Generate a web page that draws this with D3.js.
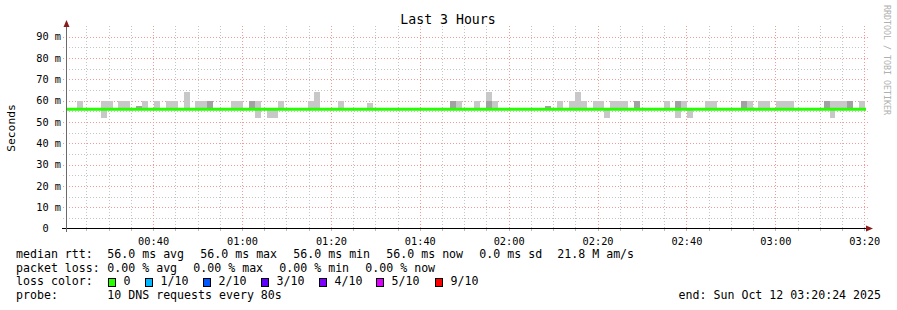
<!DOCTYPE html>
<html>
<head>
<meta charset="utf-8">
<script src="https://cdn.jsdelivr.net/npm/d3@7"></script>
<style>
  body { margin: 0; background: #fff; }
  text { font-family: "DejaVu Sans Mono", monospace; fill: #000; }
</style>
</head>
<body>
<script>
const w = 897;
const h = 310;

// time window (UTC) and the 80 s SmokePing steps
const windowStart = "2025-10-12T00:20:24Z";
const windowEnd = "2025-10-12T03:20:24Z";
const firstStep = "2025-10-12T00:22:52Z";
const stepSeconds = 80;

// median rtt in ms
const medianTimes = [windowStart, windowEnd];
const medianValues = [56.0, 56.0];

// smoke: [step index, low ms, high ms]
const smokeLight = [
  [0, 56, 60], [4, 52, 60], [5, 56, 60], [7, 56, 60], [8, 56, 60],
  [11, 56, 60], [13, 56, 60], [15, 56, 60], [16, 56, 60], [18, 56, 64],
  [20, 56, 60], [21, 56, 60], [26, 56, 60], [27, 56, 60], [30, 52, 60],
  [32, 52, 56], [33, 52, 56], [34, 56, 60], [39, 56, 60], [40, 56, 64],
  [44, 56, 60], [49, 56, 59], [64, 56, 60], [67, 56, 60], [69, 56, 64],
  [70, 56, 60], [81, 56, 60], [83, 56, 60], [84, 56, 64], [85, 56, 60],
  [87, 56, 60], [88, 56, 60], [89, 52, 56], [90, 56, 60], [91, 56, 60],
  [92, 56, 60], [99, 56, 60], [101, 52, 60], [102, 56, 60], [103, 52, 56],
  [106, 56, 60], [107, 56, 60], [113, 56, 60], [115, 56, 60], [116, 56, 60],
  [118, 56, 60], [119, 56, 60], [120, 56, 60], [127, 52, 60], [128, 56, 60],
  [129, 56, 60], [132, 56, 60]
];
const smokeDark = [
  [10, 56, 57.5], [22, 56, 60], [29, 56, 60], [63, 56, 60], [69, 56, 60],
  [79, 56, 57.5], [94, 56, 60], [101, 56, 60], [112, 56, 60], [126, 56, 60],
  [130, 56, 60]
];

const yTicks = [0, 10, 20, 30, 40, 50, 60, 70, 80, 90];

// legend
const lossLabels = ["0", "1/10", "2/10", "3/10", "4/10", "5/10", "9/10"];
const lossColors = ["#26ff00", "#00b8ff", "#0059ff", "#5e00ff", "#7e00ff", "#dd00ff", "#ff0000"];
const rttStats = ["56.0 ms avg", "56.0 ms max", "56.0 ms min", "56.0 ms now", "0.0 ms sd", "21.8 M am/s"];
const lossStats = ["0.00 % avg", "0.00 % max", "0.00 % min", "0.00 % now"];
const probeText = "10 DNS requests every 80s";
const endText = "end: Sun Oct 12 03:20:24 2025";
const title = "Last 3 Hours";

const svg = d3.select('body').append('svg').attr('width', w).attr('height', h);
svg.append('rect').attr('width', w).attr('height', h).attr('fill', '#fff');

const xScale = d3.scaleUtc()
  .domain([new Date(windowStart), new Date(windowEnd)]).range([66, 866]);
const yScale = d3.scaleLinear()
  .domain([0, 90]).range([228.5, 36.7]);

const stepTime = (k) => new Date(+new Date(firstStep) + k * stepSeconds * 1000);

// grid
const t0 = new Date(windowStart), t1 = new Date(windowEnd);
const minorX = d3.utcMinute.every(5).range(t0, new Date(+t1 + 1));
const majorX = d3.utcMinute.every(20).range(t0, new Date(+t1 + 1));
const grid = svg.append('g').attr('shape-rendering', 'crispEdges');

grid.selectAll('.hmin').data(d3.range(5, 90, 10)).enter().append('line')
  .attr('x1', 63).attr('x2', 868)
  .attr('y1', d => Math.round(yScale(d)) + 0.5).attr('y2', d => Math.round(yScale(d)) + 0.5)
  .attr('stroke', '#c4c4c4').attr('stroke-dasharray', '1,2');
grid.selectAll('.vmin').data(minorX.filter(d => d.getUTCMinutes() % 20 !== 0)).enter().append('line')
  .attr('x1', d => Math.round(xScale(d)) + 0.5).attr('x2', d => Math.round(xScale(d)) + 0.5)
  .attr('y1', 26).attr('y2', 232)
  .attr('stroke', '#c4c4c4').attr('stroke-dasharray', '1,2');
grid.selectAll('.hmaj').data(yTicks.slice(1)).enter().append('line')
  .attr('x1', 63).attr('x2', 868)
  .attr('y1', d => Math.round(yScale(d)) + 0.5).attr('y2', d => Math.round(yScale(d)) + 0.5)
  .attr('stroke', '#f29a9a').attr('stroke-dasharray', '1,2');
grid.selectAll('.vmaj').data(majorX).enter().append('line')
  .attr('x1', d => Math.round(xScale(d)) + 0.5).attr('x2', d => Math.round(xScale(d)) + 0.5)
  .attr('y1', 26).attr('y2', 233)
  .attr('stroke', '#f29a9a').attr('stroke-dasharray', '1,2');

// smoke
const smoke = svg.append('g').attr('shape-rendering', 'crispEdges');
const addSmoke = (data, color) => {
  smoke.append('g').selectAll('rect').data(data).enter().append('rect')
    .attr('x', d => Math.round(xScale(stepTime(d[0]))))
    .attr('width', d => Math.round(xScale(stepTime(d[0] + 1))) - Math.round(xScale(stepTime(d[0]))))
    .attr('y', d => Math.round(yScale(d[2])))
    .attr('height', d => Math.round(yScale(d[1])) - Math.round(yScale(d[2])))
    .attr('fill', color);
};
addSmoke(smokeLight, '#c8c8c8');
addSmoke(smokeDark, '#a2a2a2');

// median line
const median = medianTimes.map((t, i) => [new Date(t), medianValues[i]]);
svg.append('path')
  .datum(median)
  .attr('d', d3.line().x(d => xScale(d[0])).y(d => yScale(d[1])).curve(d3.curveStepAfter))
  .attr('fill', 'none')
  .attr('stroke', lossColors[0])
  .attr('stroke-width', 3);

// axes
const yAxis = d3.axisLeft(yScale).tickValues(yTicks).tickSize(0).tickPadding(5)
  .tickFormat(d => d === 0 ? '0' : d + ' m');
const yg = svg.append('g').attr('transform', 'translate(66,0)').call(yAxis);
yg.select('.domain').remove();
yg.selectAll('text').attr('font-family', 'DejaVu Sans Mono').attr('font-size', '10.3px')
  .attr('fill', '#000').attr('dx', d => d === 0 ? -12.4 : 0);

const xAxis = d3.axisBottom(xScale).tickValues(majorX).tickSize(0).tickPadding(9)
  .tickFormat(d3.utcFormat('%H:%M'));
const xg = svg.append('g').attr('transform', 'translate(0,228.5)').call(xAxis);
xg.select('.domain').remove();
xg.selectAll('text').attr('font-family', 'DejaVu Sans Mono').attr('font-size', '10.3px').attr('fill', '#000');

// minor ticks below the x axis
svg.append('g').selectAll('line').data(minorX).enter().append('line')
  .attr('x1', d => Math.round(xScale(d)) + 0.5).attr('x2', d => Math.round(xScale(d)) + 0.5)
  .attr('y1', 229).attr('y2', 231)
  .attr('stroke', '#bbb');
svg.append('line').attr('x1', 62).attr('x2', 868).attr('y1', 228.5).attr('y2', 228.5)
  .attr('stroke', '#000');
svg.append('line').attr('x1', 66.5).attr('x2', 66.5).attr('y1', 26).attr('y2', 232)
  .attr('stroke', '#6a6a6a').style('stroke', '#6a6a6a');
svg.append('path').attr('d', 'M866,225.5 L873,228.5 L866,231.5 Z').attr('fill', '#8b1a1a');
svg.append('path').attr('d', 'M63.5,27 L66.5,20 L69.5,27 Z').attr('fill', '#8b1a1a');

// titles
svg.append('text').attr('x', 448).attr('y', 24.3).attr('text-anchor', 'middle')
  .attr('font-size', '13.2px').text(title);
svg.append('text').attr('transform', 'translate(15,128) rotate(-90)').attr('text-anchor', 'middle')
  .attr('font-size', '11.3px').text('Seconds');
svg.append('text').attr('transform', 'translate(884,5) rotate(90)')
  .attr('font-size', '8.3px').style('fill', '#b0b0b0')
  .text('RRDTOOL / TOBI OETIKER');

// legend
const leg = svg.append('g').attr('font-size', '11.6px');
const rowY = [257.7, 271.5, 285.3, 299.2];
leg.append('text').attr('x', 16).attr('y', rowY[0]).text('median rtt:');
const rttX = [107.3, 200.3, 293.3, 386.3, 479.3, 557.3];
rttStats.forEach((s, i) => leg.append('text').attr('x', rttX[i]).attr('y', rowY[0]).text(s));
leg.append('text').attr('x', 16).attr('y', rowY[1]).text('packet loss:');
const lossX = [107.3, 193.3, 279.3, 365.3];
lossStats.forEach((s, i) => leg.append('text').attr('x', lossX[i]).attr('y', rowY[1]).text(s));
leg.append('text').attr('x', 16).attr('y', rowY[2]).text('loss color:');
const boxX = [108.5, 145.5, 203.5, 261.5, 319.5, 376.5, 435.5];
lossLabels.forEach((s, i) => {
  leg.append('rect').attr('x', boxX[i]).attr('y', 278.5).attr('width', 7).attr('height', 8)
    .attr('fill', lossColors[i]).attr('stroke', '#000');
  leg.append('text').attr('x', boxX[i] + 15).attr('y', rowY[2]).text(s);
});
leg.append('text').attr('x', 16).attr('y', rowY[3]).text('probe:');
leg.append('text').attr('x', 107.3).attr('y', rowY[3]).text(probeText);
leg.append('text').attr('x', 881).attr('y', rowY[3]).attr('text-anchor', 'end').text(endText);
</script>
</body>
</html>
